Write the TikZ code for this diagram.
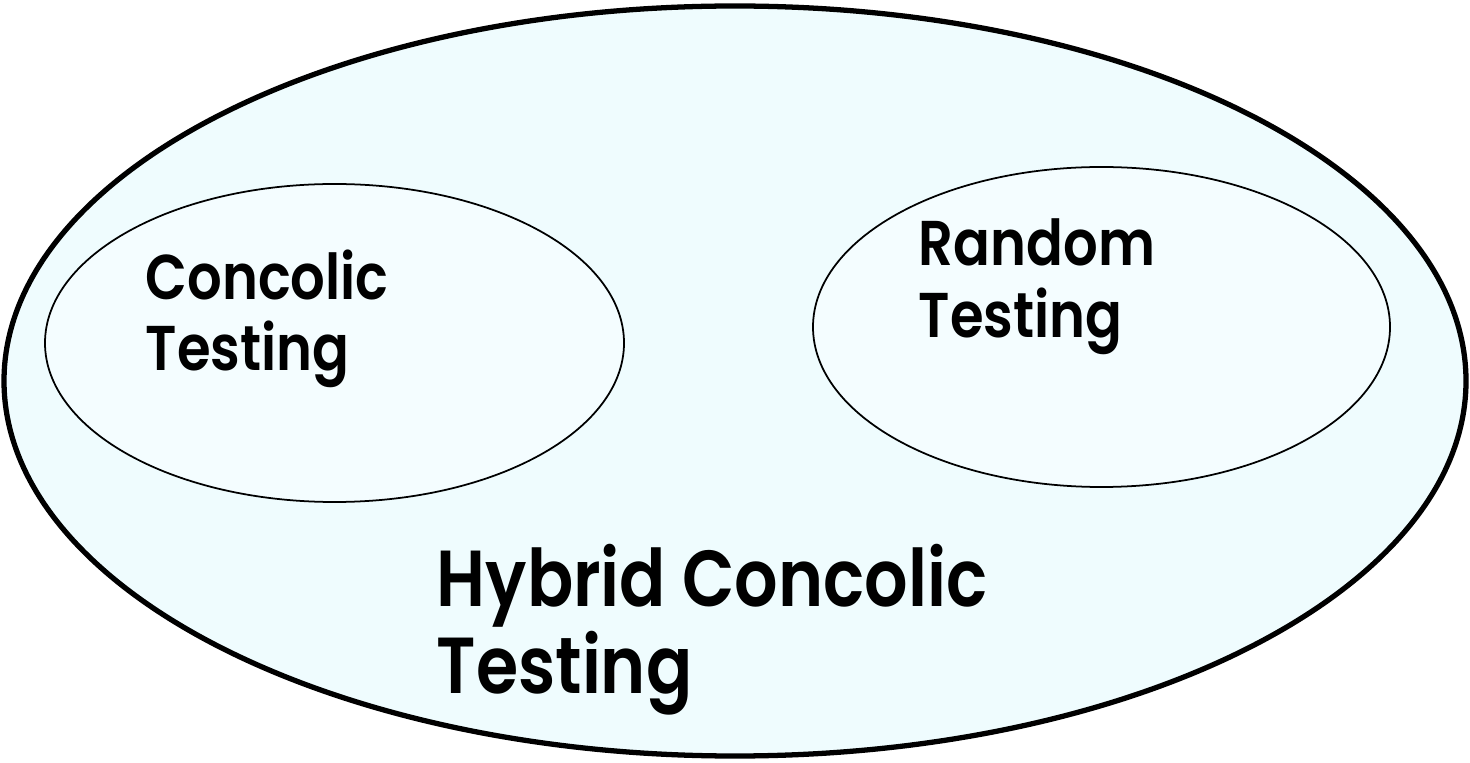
\documentclass[tikz,border=0pt]{standalone}
\usepackage{fontspec}
\setmainfont{Poppins}[BoldFont=Poppins SemiBold, FakeStretch=0.86]
\usepackage{tikz}
\usetikzlibrary{positioning,shapes.geometric}

\definecolor{hybridfill}{HTML}{EFFCFE}
\definecolor{innerfill}{HTML}{F4FDFF}

\begin{document}
\begin{tikzpicture}[
    label/.style={anchor=north west, inner sep=0pt, align=left, font=\bfseries\fontsize{18}{20.4}\selectfont},
    biglabel/.style={anchor=north west, inner sep=0pt, align=left, font=\bfseries\fontsize{22.6}{24.7}\selectfont}]
    \useasboundingbox (0,0) rectangle (14.7,7.62);
    \node[ellipse, draw, line width=1.5pt, fill=hybridfill, minimum width=14.62cm, minimum height=7.5cm] (hybrid) at (7.35,3.81) {};
    \node[ellipse, draw, line width=0.5pt, fill=innerfill, minimum width=5.79cm, minimum height=3.18cm] (concolic) at (3.345,4.19) {};
    \node[ellipse, draw, line width=0.5pt, fill=innerfill, minimum width=5.77cm, minimum height=3.2cm] (random) at (11.015,4.35) {};

    \node[label] (concolictxt) at (1.45,5.13) {Concolic\\Testing};
    \node[label] (randomtxt) at (9.18,5.44) {Random\\Testing};
    \node[biglabel] (hybridtxt) at (4.36,2.18) {Hybrid Concolic\\Testing};
\end{tikzpicture}
\end{document}
